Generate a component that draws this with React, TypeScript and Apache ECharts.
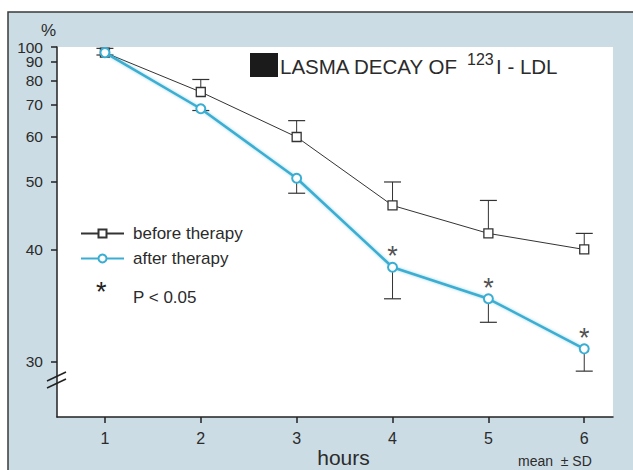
import React, { useEffect, useRef } from 'react';
import * as echarts from 'echarts';

const hours = [1, 2, 3, 4, 5, 6];
const beforeMean = [96, 75, 60, 46, 42, 40];
const beforeSD = [3, 5.6, 4.7, 4, 4.8, 2];
const afterMean = [96, 68.6, 50.7, 38, 34.9, 30.9];
const afterSD = [1.6, 0.6, 2.7, 3.1, 2, 1.5];
const significant = [false, false, false, true, true, true];
const yTicks = [30, 40, 50, 60, 70, 80, 90, 100];
const seriesNames = ['before therapy', 'after therapy'];

const FONT = 'Arial, sans-serif';
const DARK = '#2b2b2b';
const TEAL = '#3aaed2';

// reciprocal scale: plotted value = 1 / percent
const inv = (v: number) => 1 / v;
const Y_MIN = inv(100);
const Y_MAX = inv(26.73);

// ECharts hides a label that crowds the end label, so the tightly packed
// ticks are split (alternately) over two overlaid axes with identical scales.
const yTicksA = yTicks.filter((_, i) => i % 2 === 0);
const yTicksB = yTicks.filter((_, i) => i % 2 === 1);

function errorBarRender(color: string) {
  return (params: any, api: any) => {
    const x = api.value(0);
    const p0 = api.coord([x, api.value(1)]);
    const p1 = api.coord([x, api.value(2)]);
    const hw = 8.5;
    return {
      type: 'group',
      children: [
        { type: 'line', shape: { x1: p0[0], y1: p0[1], x2: p1[0], y2: p1[1] }, style: { stroke: color, lineWidth: 1 } },
        { type: 'line', shape: { x1: p1[0] - hw, y1: p1[1], x2: p1[0] + hw, y2: p1[1] }, style: { stroke: color, lineWidth: 1.2 } },
      ],
    };
  };
}

function makeYAxis(ticks: number[], showLine: boolean) {
  return {
    type: 'value',
    position: 'left',
    inverse: true,
    min: Y_MIN,
    max: Y_MAX,
    axisLine: { show: showLine, onZero: false, lineStyle: { color: '#222', width: 1.5 } },
    axisTick: { show: true, customValues: ticks.map(inv), length: 6, lineStyle: { color: '#222', width: 1.5 } },
    axisLabel: {
      customValues: ticks.map(inv),
      formatter: (v: number) => String(Math.round(1 / v)),
      showMinLabel: true,
      showMaxLabel: true,
      fontSize: 15.5,
      lineHeight: 13,
      color: DARK,
      margin: 14,
      fontFamily: FONT,
    },
    splitLine: { show: false },
  };
}

export default function App() {
  const ref = useRef<HTMLDivElement>(null);
  useEffect(() => {
    if (!ref.current) return;
    const chart = echarts.init(ref.current, undefined, { renderer: 'svg' });
    const option: any = {
      animation: false,
      backgroundColor: '#ffffff',
      textStyle: { fontFamily: FONT },
      grid: {
        left: 57,
        right: 20,
        top: 47,
        bottom: 53,
        show: true,
        backgroundColor: '#ffffff',
        borderWidth: 0,
        containLabel: false,
        outerBoundsMode: 'none',
      },
      legend: {
        data: seriesNames,
        orient: 'vertical',
        left: 80,
        top: 225,
        padding: 0,
        itemWidth: 43,
        itemHeight: 10,
        itemGap: 8,
        textStyle: { fontSize: 17, color: DARK, fontFamily: FONT, padding: [0, 0, 0, 4] },
      },
      xAxis: {
        type: 'value',
        min: 0.5,
        max: 6.3,
        name: 'hours',
        nameLocation: 'middle',
        nameGap: 30,
        nameMoveOverlap: false,
        nameTextStyle: { fontSize: 21, lineHeight: 21, color: DARK, fontFamily: FONT, padding: [0, 0, 0, 17] },
        axisLine: { show: true, onZero: false, lineStyle: { color: '#222', width: 1.5 } },
        axisTick: { show: true, customValues: hours, length: 6, lineStyle: { color: '#222', width: 1.5 } },
        axisLabel: { customValues: hours, fontSize: 16, color: DARK, margin: 13, fontFamily: FONT },
        splitLine: { show: false },
      },
      yAxis: [makeYAxis(yTicksA, true), makeYAxis(yTicksB, false)],
      series: [
        {
          name: 'beforeErr',
          type: 'custom',
          silent: true,
          z: 1,
          renderItem: errorBarRender('#333'),
          encode: { x: 0, y: [1, 2] },
          data: hours.map((h, i) => [h, inv(beforeMean[i]), inv(beforeMean[i] + beforeSD[i])]),
        },
        {
          name: 'afterErr',
          type: 'custom',
          silent: true,
          z: 1,
          renderItem: errorBarRender('#333'),
          encode: { x: 0, y: [1, 2] },
          data: hours.map((h, i) => [h, inv(afterMean[i]), inv(afterMean[i] - afterSD[i])]),
        },
        {
          name: seriesNames[0],
          type: 'line',
          z: 3,
          data: hours.map((h, i) => [h, inv(beforeMean[i])]),
          symbol: 'rect',
          symbolSize: 9,
          lineStyle: { color: '#333', width: 1 },
          itemStyle: { color: '#ffffff', borderColor: '#333', borderWidth: 1.3 },
        },
        {
          name: seriesNames[1],
          type: 'line',
          z: 4,
          data: hours.map((h, i) => [h, inv(afterMean[i])]),
          symbol: 'circle',
          symbolSize: 9,
          lineStyle: { color: TEAL, width: 2.5, shadowBlur: 3, shadowColor: 'rgba(58,174,210,0.5)' },
          itemStyle: { color: '#ffffff', borderColor: TEAL, borderWidth: 2 },
        },
        {
          name: 'sig',
          type: 'scatter',
          z: 5,
          silent: true,
          symbolSize: 1,
          itemStyle: { color: 'rgba(0,0,0,0)' },
          data: hours.map((h, i) => (significant[i] ? [h, inv(afterMean[i])] : null)).filter((d) => d),
          label: { show: true, formatter: '*', position: 'top', distance: 2, offset: [0, 5], fontSize: 27, color: '#222', fontFamily: FONT },
        },
      ],
      graphic: [
        {
          type: 'rect',
          z: -10,
          silent: true,
          shape: { x: 8, y: 12, width: 640, height: 480 },
          style: { fill: '#cbdce5', stroke: '#3a3a3a', lineWidth: 1.5 },
        },
        { type: 'rect', shape: { x: 250, y: 53, width: 28, height: 24 }, style: { fill: '#1b1b1b' } },
        { type: 'text', x: 280, y: 66, style: { text: 'LASMA DECAY OF', fontSize: 20.5, fill: DARK, fontFamily: FONT, verticalAlign: 'middle' } },
        { type: 'text', x: 467, y: 59, style: { text: '123', fontSize: 16, fill: DARK, fontFamily: FONT, verticalAlign: 'middle' } },
        { type: 'text', x: 496, y: 66, style: { text: 'I - LDL', fontSize: 20.5, fill: DARK, fontFamily: FONT, verticalAlign: 'middle' } },
        { type: 'text', x: 41, y: 30, style: { text: '%', fontSize: 17, fill: DARK, fontFamily: FONT, verticalAlign: 'middle' } },
        { type: 'text', x: 96, y: 292, style: { text: '*', fontSize: 27, fill: '#222', fontFamily: FONT, verticalAlign: 'middle' } },
        { type: 'text', x: 133, y: 297, style: { text: 'P < 0.05', fontSize: 17, fill: DARK, fontFamily: FONT, verticalAlign: 'middle' } },
        { type: 'text', x: 518, y: 461, style: { text: 'mean  ± SD', fontSize: 14, fill: DARK, fontFamily: FONT, verticalAlign: 'middle' } },
        { type: 'line', shape: { x1: 47, y1: 381, x2: 66, y2: 372 }, style: { stroke: '#222', lineWidth: 1.5 } },
        { type: 'line', shape: { x1: 47, y1: 388, x2: 66, y2: 379 }, style: { stroke: '#222', lineWidth: 1.5 } },
      ],
    };
    chart.setOption(option);
    return () => chart.dispose();
  }, []);
  return <div ref={ref} style={{ position: 'absolute', left: 0, top: 0, width: 633, height: 470 }} />;
}
